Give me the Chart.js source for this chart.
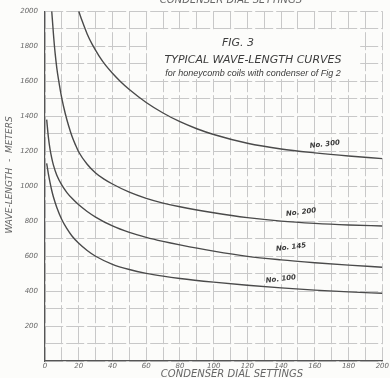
<!DOCTYPE html>
<html>
<head>
<meta charset="utf-8">
<script src="https://cdn.jsdelivr.net/npm/chart.js@4.4.1/dist/chart.umd.min.js"></script>
<style>
  html, body { margin: 0; padding: 0; background: #fcfcfa; }
  #wrap { width: 390px; height: 378px; }
</style>
</head>
<body>
<div id="wrap"><canvas id="waveChart" width="390" height="378"></canvas></div>
<script>
// Values (dial setting -> wave-length in metres)
const dial300 = [20, 22, 25, 28, 32, 36, 40, 45, 50, 60, 70, 80, 90, 100, 120, 140, 160, 180, 200];
const wave300 = [2000, 1945, 1870, 1810, 1745, 1690, 1645, 1595, 1552, 1478, 1418, 1368, 1328, 1295, 1245, 1212, 1190, 1172, 1157];

const dial200 = [4, 5, 6, 7, 8, 10, 12, 14, 16, 18, 20, 25, 30, 35, 40, 50, 60, 70, 80, 100, 120, 140, 160, 180, 200];
const wave200 = [2000, 1870, 1760, 1675, 1610, 1500, 1415, 1345, 1285, 1237, 1195, 1125, 1075, 1040, 1012, 965, 930, 903, 882, 848, 820, 800, 787, 778, 772];

const dial145 = [1, 2, 3, 4, 5, 7, 10, 13, 16, 20, 25, 30, 40, 50, 60, 70, 80, 100, 120, 140, 160, 180, 200];
const wave145 = [1380, 1280, 1210, 1160, 1120, 1062, 1005, 963, 930, 893, 855, 823, 772, 735, 707, 684, 664, 628, 598, 578, 562, 548, 536];

const dial100 = [1, 2, 3, 4, 5, 7, 10, 13, 16, 20, 25, 30, 40, 50, 60, 70, 80, 100, 120, 140, 160, 180, 200];
const wave100 = [1130, 1070, 1020, 975, 938, 878, 808, 757, 715, 673, 632, 599, 553, 523, 501, 485, 472, 451, 433, 418, 405, 395, 387];

const coilNames = ["No. 300", "No. 200", "No. 145", "No. 100"];
const dialTicks = [0, 20, 40, 60, 80, 100, 120, 140, 160, 180, 200];
const waveTicks = [200, 400, 600, 800, 1000, 1200, 1400, 1600, 1800, 2000];

const ink = "#4a4a4a";
const pencil = "#666";

function pairs(xs, ys) {
    return xs.map((x, i) => ({ x: x, y: ys[i] }));
}

// where each coil label sits, in data units
const labelSpots = [
    { dial: 166, wave: 1228 },
    { dial: 152, wave: 840 },
    { dial: 146, wave: 640 },
    { dial: 140, wave: 458 },
];

const paperText = {
    id: "paperText",
    beforeDatasetsDraw(chart) {
        const { ctx, scales: { x, y } } = chart;
        // the title panel rubs the grid out
        ctx.save();
        ctx.fillStyle = "#fcfcfa";
        const l = x.getPixelForValue(61), r = x.getPixelForValue(186);
        const t = y.getPixelForValue(1890), b = y.getPixelForValue(1612);
        ctx.fillRect(l, t, r - l, b - t);
        ctx.restore();
    },
    afterDraw(chart) {
        const { ctx, scales: { x, y } } = chart;
        ctx.save();
        ctx.fillStyle = "#3c3c3c";
        ctx.textAlign = "center";
        ctx.textBaseline = "alphabetic";

        ctx.font = "italic 11px 'DejaVu Sans'";
        ctx.fillText("FIG. 3", 238, 46);
        ctx.fillText("TYPICAL WAVE-LENGTH CURVES", 253, 63);
        ctx.font = "italic 9px 'Liberation Sans'";
        ctx.fillText("for honeycomb coils with condenser of Fig 2", 253, 76);

        // axis titles
        ctx.fillStyle = pencil;
        ctx.font = "italic 10px 'DejaVu Sans'";
        ctx.fillText("CONDENSER DIAL SETTINGS", 231, 3);
        ctx.fillText("CONDENSER DIAL SETTINGS", 232, 377);

        ctx.save();
        ctx.translate(12, 175);
        ctx.rotate(-Math.PI / 2);
        ctx.font = "italic 9px 'DejaVu Sans'";
        ctx.fillText("WAVE-LENGTH  -  METERS", 0, 0);
        ctx.restore();

        // coil labels
        ctx.fillStyle = "#3a3a3a";
        ctx.font = "italic bold 7px 'DejaVu Sans'";
        labelSpots.forEach((s, i) => {
            ctx.save();
            ctx.translate(x.getPixelForValue(s.dial), y.getPixelForValue(s.wave));
            ctx.rotate(-0.12);
            ctx.fillText(coilNames[i], 0, 0);
            ctx.restore();
        });
        ctx.restore();
    }
};

const series = [
    pairs(dial300, wave300),
    pairs(dial200, wave200),
    pairs(dial145, wave145),
    pairs(dial100, wave100),
];

const ctx = document.getElementById("waveChart").getContext("2d");
const waveChart = new Chart(ctx, {
    type: "line",
    data: {
        datasets: series.map((pts, i) => ({
            label: coilNames[i],
            data: pts,
            borderColor: ink,
            borderWidth: 1.4,
            pointRadius: 0,
            fill: false,
            cubicInterpolationMode: "monotone",
        })),
    },
    options: {
        responsive: false,
        animation: false,
        layout: { padding: { top: 10, right: 1, left: 0, bottom: 0 } },
        plugins: {
            legend: { display: false },
            tooltip: { enabled: false },
        },
        scales: {
            x: {
                type: "linear",
                min: 0,
                max: 200,
                afterFit(scale) { scale.height = 17; },
                ticks: {
                    stepSize: 10,
                    autoSkip: false,
                    maxRotation: 0,
                    padding: 1,
                    color: pencil,
                    font: { family: "DejaVu Sans", size: 7, style: "italic" },
                    callback: (v) => (dialTicks.includes(v) ? String(v) : ""),
                },
                grid: { color: "#c8c8c8", lineWidth: 1, drawTicks: false },
                border: { color: "#555", width: 1.2, dash: [18, 3] },
            },
            y: {
                min: 0,
                max: 2000,
                afterFit(scale) { scale.width = 45; },
                ticks: {
                    stepSize: 100,
                    autoSkip: false,
                    padding: 7,
                    color: pencil,
                    font: { family: "DejaVu Sans", size: 7, style: "italic" },
                    callback: (v) => (waveTicks.includes(v) ? String(v) : ""),
                },
                grid: { color: "#c8c8c8", lineWidth: 1, drawTicks: false },
                border: { color: "#555", width: 1.2, dash: [18, 3] },
            },
        },
    },
    plugins: [paperText],
});
</script>
</body>
</html>
